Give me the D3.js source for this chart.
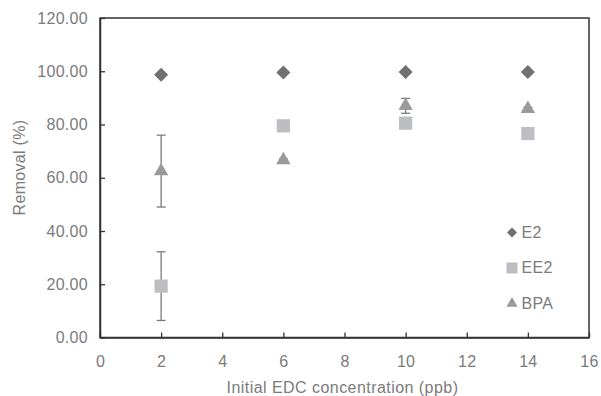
<!DOCTYPE html>
<html>
<head>
<meta charset="utf-8">
<script src="https://cdn.jsdelivr.net/npm/d3@7.9.0/dist/d3.min.js"></script>
<style>
  body { margin: 0; background: #fff; }
  text { font-family: "Liberation Sans", Arial, sans-serif; fill: #7b7b7b; letter-spacing: 0.3px; }
</style>
</head>
<body>
<svg id="chart" width="601" height="396"></svg>
<script>
const concentrations = [2, 6, 10, 14];
const e2 = [98.7, 99.5, 99.7, 99.7];
const ee2 = [19.3, 79.5, 80.5, 76.6];
const ee2Err = [12.9, 0.5, 0.5, 0.5];
const bpa = [62.5, 66.6, 87.0, 85.9];
const bpaErr = [13.5, 0.5, 2.8, 0.5];
const xTicks = [0, 2, 4, 6, 8, 10, 12, 14, 16];
const yTicks = [0, 20, 40, 60, 80, 100, 120];

const svg = d3.select('#chart');
const plotLeft = 100, plotRight = 589, plotTop = 18, plotBottom = 337.5;
const fontSize = 16;

const x = d3.scaleLinear().domain([0, 16]).range([plotLeft, plotRight]);
const y = d3.scaleLinear().domain([0, 120]).range([plotBottom, plotTop]);

// frame
svg.append('rect')
  .attr('x', plotLeft).attr('y', plotTop)
  .attr('width', plotRight - plotLeft).attr('height', plotBottom - plotTop)
  .attr('fill', 'none').attr('stroke', '#333').attr('stroke-width', 1.5);

// axes with inward ticks
const xAxis = svg.append('g').attr('transform', `translate(0,${plotBottom})`)
  .call(d3.axisBottom(x).tickValues(xTicks).tickSizeInner(-5).tickSizeOuter(0).tickPadding(18.5));
const yAxis = svg.append('g').attr('transform', `translate(${plotLeft},0)`)
  .call(d3.axisLeft(y).tickValues(yTicks).tickSizeInner(-5).tickSizeOuter(0).tickPadding(12)
    .tickFormat(d3.format('.2f')));
[xAxis, yAxis].forEach(g => {
  g.select('.domain').attr('stroke', '#333').attr('stroke-width', 1.5);
  g.selectAll('.tick line').attr('stroke', '#333').attr('stroke-width', 1.3);
  g.selectAll('.tick text').attr('font-size', fontSize).attr('fill', '#7b7b7b')
    .attr('font-family', '"Liberation Sans", Arial, sans-serif');
});

// axis titles
svg.append('text')
  .attr('x', (plotLeft + plotRight) / 2 - 2).attr('y', 392.5)
  .attr('text-anchor', 'middle').attr('font-size', fontSize)
  .style('letter-spacing', '0.45px')
  .text('Initial EDC concentration (ppb)');
svg.append('text')
  .attr('transform', 'translate(24.5,167.5) rotate(-90)')
  .attr('text-anchor', 'middle').attr('font-size', fontSize)
  .text('Removal (%)');

// error bars
function errorBars(vals, errs) {
  const g = svg.append('g').attr('stroke', '#7a7a7a').attr('stroke-width', 1.3);
  vals.forEach((v, i) => {
    const cx = x(concentrations[i]);
    g.append('line').attr('x1', cx).attr('x2', cx)
      .attr('y1', y(v - errs[i])).attr('y2', y(v + errs[i]));
    [v - errs[i], v + errs[i]].forEach(e => {
      g.append('line').attr('x1', cx - 4.5).attr('x2', cx + 4.5)
        .attr('y1', y(e)).attr('y2', y(e));
    });
  });
}
errorBars(ee2, ee2Err);
errorBars(bpa, bpaErr);

const series = [
  { name: 'E2', values: e2, shape: d3.symbolSquare, rotate: 45, size: 98, legendSize: 50, color: '#707070' },
  { name: 'EE2', values: ee2, shape: d3.symbolSquare, rotate: 0, size: 175, legendSize: 121, color: '#bdbec2' },
  { name: 'BPA', values: bpa, shape: d3.symbolTriangle, rotate: 0, size: 90, legendSize: 54, color: '#9a9a9a' }
];

series.forEach(s => {
  svg.append('g').selectAll('path')
    .data(s.values)
    .join('path')
    .attr('transform', (d, i) => `translate(${x(concentrations[i])},${y(d)}) rotate(${s.rotate})`)
    .attr('d', d3.symbol().type(s.shape).size(s.size))
    .attr('fill', s.color);
});

// legend
const legend = svg.append('g');
series.forEach((s, i) => {
  const ly = 232.5 + i * 35.5;
  legend.append('path')
    .attr('transform', `translate(512,${ly}) rotate(${s.rotate})`)
    .attr('d', d3.symbol().type(s.shape).size(s.legendSize))
    .attr('fill', s.color);
  legend.append('text')
    .attr('x', 521.5).attr('y', ly + 5)
    .attr('font-size', fontSize)
    .text(s.name);
});
</script>
</body>
</html>
